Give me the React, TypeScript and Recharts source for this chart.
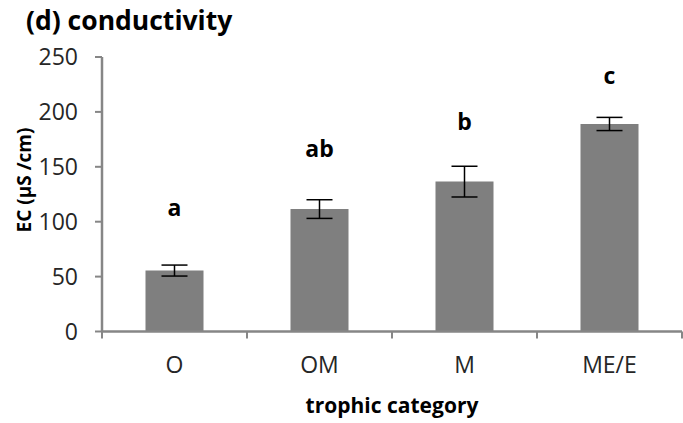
import React from "react";
import { ComposedChart, Bar, XAxis, YAxis, ErrorBar, LabelList, Label } from "recharts";

const categories = ["O", "OM", "M", "ME/E"];
const ecMeans = [55.5, 111.5, 136.5, 189];
const ecErrors = [5, 8.5, 14, 6];
const groupLetters = ["a", "ab", "b", "c"];
const letterHeights = [113, 167, 192, 234];
const yTicks = [0, 50, 100, 150, 200, 250];

const data = categories.map((c, i) => ({
  category: c,
  ec: ecMeans[i],
  err: ecErrors[i],
  letter: groupLetters[i],
}));

const FONT = "'Open Sans', 'DejaVu Sans', sans-serif";
const AXIS = "#868686";
const TEXT = "#262626";
const TICK_SIZE = 7;
const TICK_MARGIN = 18;

const XTick = (props: any) => {
  const { x, y, payload, index } = props;
  const half = payload && payload.offset ? payload.offset : 72.5;
  const axisY = y - TICK_SIZE - TICK_MARGIN;
  const last = index === categories.length - 1;
  return (
    <g>
      <line x1={x - half} x2={x - half} y1={axisY} y2={axisY + TICK_SIZE} stroke={AXIS} strokeWidth={2} />
      {last && (
        <line x1={x + half} x2={x + half} y1={axisY} y2={axisY + TICK_SIZE} stroke={AXIS} strokeWidth={2} />
      )}
      <text x={x} y={y} dy="0.71em" textAnchor="middle" fill={TEXT} fontSize={23} fontFamily={FONT}>
        {payload.value}
      </text>
    </g>
  );
};

const LetterLabel = (props: any) => {
  const { x, y, width, height, index } = props;
  const v = ecMeans[index];
  const perUnit = height / v;
  const ly = y + height - letterHeights[index] * perUnit;
  return (
    <text
      x={x + width / 2}
      y={ly}
      textAnchor="middle"
      dominantBaseline="central"
      fontSize={23}
      fontWeight="bold"
      fontFamily={FONT}
      fill="#000"
    >
      {groupLetters[index]}
    </text>
  );
};

export default function App() {
  return (
    <div style={{ position: "absolute", left: 0, top: 0, width: 683, height: 423, background: "#fff" }}>
      <div
        style={{
          position: "absolute",
          left: 26,
          top: 2,
          fontFamily: FONT,
          fontWeight: "bold",
          fontSize: 26.5,
          color: "#000",
          lineHeight: "36px",
          whiteSpace: "nowrap",
        }}
      >
        (d) conductivity
      </div>
      <ComposedChart
        width={683}
        height={423}
        data={data}
        margin={{ top: 57, right: 1, bottom: 0, left: 0 }}
        barCategoryGap="30%"
      >
        <XAxis
          dataKey="category"
          type="category"
          axisLine={{ stroke: AXIS, strokeWidth: 2.5 }}
          tickLine={false}
          tickSize={TICK_SIZE}
          tickMargin={TICK_MARGIN}
          tick={<XTick />}
          height={91.5}
          interval={0}
        >
          <Label
            value="trophic category"
            position="insideBottom"
            offset={10}
            style={{ fontFamily: FONT, fontWeight: "bold", fontSize: 21, fill: "#000" }}
          />
        </XAxis>
        <YAxis
          type="number"
          domain={[0, 250]}
          ticks={yTicks}
          interval={0}
          width={102}
          axisLine={{ stroke: AXIS, strokeWidth: 2.5 }}
          tickLine={{ stroke: AXIS, strokeWidth: 2 }}
          tickSize={TICK_SIZE}
          tickMargin={17}
          tick={{ fill: TEXT, fontSize: 23, fontFamily: FONT }}
        >
          <Label
            content={() => (
              <text
                x={24}
                y={180}
                transform="rotate(-90 24 180)"
                textAnchor="middle"
                dominantBaseline="central"
                fontFamily={FONT}
                fontWeight="bold"
                fontSize={19}
                fill="#000"
              >
                EC (µS /cm)
              </text>
            )}
          />
        </YAxis>
        <Bar dataKey="ec" fill="#7f7f7f" isAnimationActive={false}>
          <ErrorBar dataKey="err" width={13} stroke="#000" strokeWidth={1.5} />
          <LabelList dataKey="letter" content={<LetterLabel />} />
        </Bar>
      </ComposedChart>
    </div>
  );
}
